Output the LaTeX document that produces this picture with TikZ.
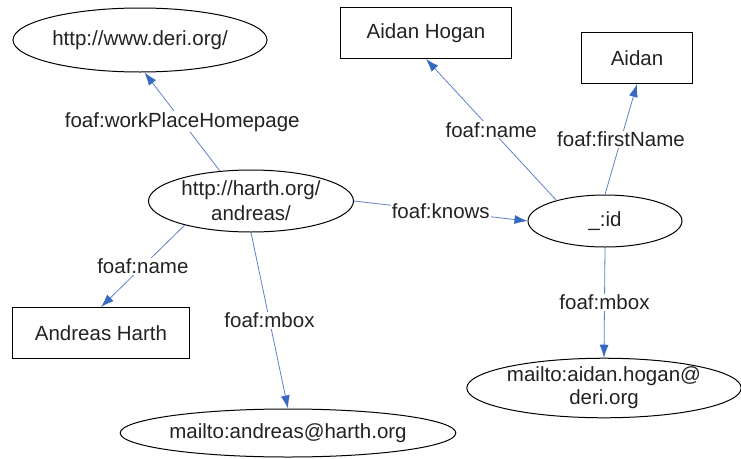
\documentclass[tikz,border=0pt]{standalone}
\usepackage{fontspec}
\setmainfont{Liberation Sans}
\usetikzlibrary{arrows.meta,shapes.geometric,calc}
\definecolor{edgeblue}{RGB}{95,130,200}
\definecolor{tipblue}{RGB}{55,105,195}
\definecolor{txt}{RGB}{35,35,35}
\begin{document}
\begin{tikzpicture}[x=1pt,y=-1pt,
  every node/.style={font=\fontsize{20.5}{25}\selectfont, text=txt},
  lit/.style={draw, line width=1pt, rectangle, minimum height=51pt, inner sep=0pt},
  res/.style={draw, line width=1pt, ellipse, inner sep=0pt, align=center},
  rel/.style={draw=edgeblue, line width=0.8pt, -{Latex[length=13pt,width=9pt,color=tipblue]}},
  lab/.style={fill=white, inner sep=1pt, midway}]
\useasboundingbox[fill=white] (0,0) rectangle (741,458);

% resources (ellipses)
\node[res, minimum width=254pt, minimum height=64pt] (deri) at (140,40) {http://www.deri.org/};
\node[res, minimum width=205pt, minimum height=62pt] (harth) at (251,201) {http://harth.org/\\andreas/};
\node[res, minimum width=154pt, minimum height=52pt] (id) at (605,221) {\_:id};
\node[res, minimum width=300pt, minimum height=48pt] (mandreas) at (288,433) {mailto:andreas@harth.org};
\node[res, minimum width=254pt, minimum height=58pt, font=\fontsize{20.5}{23}\selectfont] (maidan) at (604,388) {mailto:aidan.hogan@\\deri.org};

% literals (boxes)
\node[lit, minimum width=171pt] (ahogan) at (426,33) {Aidan Hogan};
\node[lit, minimum width=111pt] (aidan) at (637,58) {Aidan};
\node[lit, minimum width=177pt] (aharth) at (101,333) {Andreas Harth};

% relations
\draw[rel] (harth.136) -- (deri.-82) node[lab] {foaf:workPlaceHomepage};
\draw[rel] (harth.east) -- (id.west) node[lab] {foaf:knows};
\draw[rel] (harth.200) -- (aharth.north) node[lab] {foaf:name};
\draw[rel] (harth.south) -- (mandreas.north) node[lab] {foaf:mbox};
\draw[rel] (id.157) -- (ahogan.south) node[lab] {foaf:name};
\draw[rel] (id.north) -- (aidan.south) node[lab] {foaf:firstName};
\draw[rel] (id.south) -- (maidan.north) node[lab] {foaf:mbox};
\end{tikzpicture}
\end{document}
